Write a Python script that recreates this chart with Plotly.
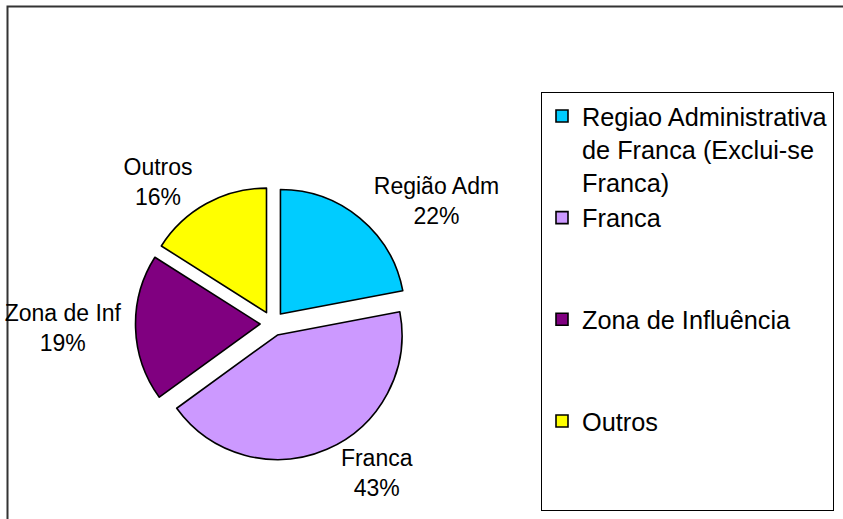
import plotly.graph_objects as go

categories = ["Regiao Administrativa<br>de Franca (Exclui-se<br>Franca)",
              "Franca<br>&nbsp;<br>&nbsp;",
              "Zona de Influência<br>&nbsp;<br>&nbsp;",
              "Outros<br>&nbsp;<br>&nbsp;"]
short_labels = ["Região Adm", "Franca", "Zona de Inf", "Outros"]
values = [22, 43, 19, 16]
colors = ["#00CCFF", "#CC99FF", "#800080", "#FFFF00"]

W, H = 843, 519
cx, cy, half = 272.5, 323.6, 137.0

fig = go.Figure(go.Pie(
    labels=categories,
    values=values,
    customdata=short_labels,
    texttemplate="%{customdata}<br>%{percent:.0%}",
    textposition="outside",
    textfont=dict(family="Arial, Liberation Sans, sans-serif", size=23, color="black"),
    marker=dict(colors=colors, line=dict(color="black", width=1.6)),
    pull=[0.1, 0.1, 0.1, 0.1],
    sort=False,
    direction="clockwise",
    rotation=0,
    hoverinfo="label+percent",
    domain=dict(x=[(cx - half) / W, (cx + half) / W],
                y=[1 - (cy + half) / H, 1 - (cy - half) / H]),
))

fig.update_layout(
    width=W, height=H,
    margin=dict(l=0, r=0, t=0, b=0, autoexpand=False),
    paper_bgcolor="white",
    plot_bgcolor="white",
    font=dict(family="Arial, Liberation Sans, sans-serif", color="black"),
    showlegend=True,
    legend=dict(
        x=541 / W, y=1 - 92 / H, xanchor="left", yanchor="top",
        bgcolor="white", bordercolor="black", borderwidth=1,
        font=dict(family="Arial, Liberation Sans, sans-serif", size=25.3, color="black"),
        valign="top",
        traceorder="normal",
    ),
    shapes=[dict(type="rect", xref="paper", yref="paper",
                 x0=7.5 / W, x1=1.05, y0=-0.05, y1=1 - 6.5 / H,
                 line=dict(color="#333333", width=2), layer="below")],
)

fig.write_html(
    "out.html",
    config={"displayModeBar": False},
    post_script="document.body.style.margin='0';document.body.style.padding='0';"
                "document.body.style.overflow='hidden';"
                "document.documentElement.style.overflow='hidden';",
)
